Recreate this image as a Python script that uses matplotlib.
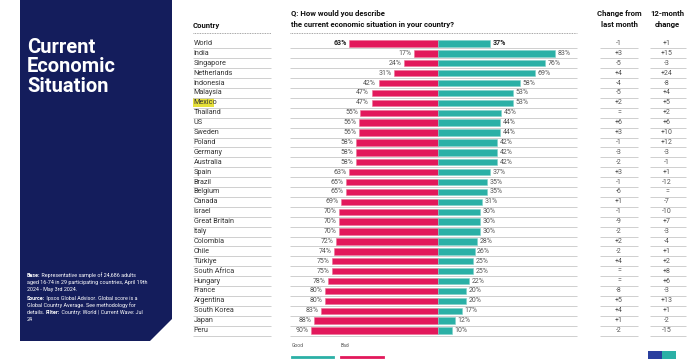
import numpy as np
import matplotlib.pyplot as plt
import matplotlib.transforms as mtransforms
from matplotlib.patches import Polygon, Rectangle

plt.rcParams['font.family'] = ['Roboto', 'DejaVu Sans']

countries = ["World", "India", "Singapore", "Netherlands", "Indonesia", "Malaysia",
             "Mexico", "Thailand", "US", "Sweden", "Poland", "Germany", "Australia",
             "Spain", "Brazil", "Belgium", "Canada", "Israel", "Great Britain", "Italy",
             "Colombia", "Chile", "Türkiye", "South Africa", "Hungary", "France",
             "Argentina", "South Korea", "Japan", "Peru"]
bad = [63, 17, 24, 31, 42, 47, 47, 55, 56, 56, 58, 58, 58, 63, 65, 65, 69, 70, 70, 70,
       72, 74, 75, 75, 78, 80, 80, 83, 88, 90]
good = [37, 83, 76, 69, 58, 53, 53, 45, 44, 44, 42, 42, 42, 37, 35, 35, 31, 30, 30, 30,
        28, 26, 25, 25, 22, 20, 20, 17, 12, 10]
chg_month = ["-1", "+3", "-5", "+4", "-4", "-5", "+2", "=", "+6", "+3", "-1", "-3", "-2",
             "+3", "-1", "-6", "+1", "-1", "-9", "-2", "+2", "-2", "+4", "=", "=", "-8",
             "+5", "+4", "+1", "-2"]
chg_year = ["+1", "+15", "-3", "+24", "-8", "+4", "+5", "+2", "+6", "+10", "+12", "-3",
            "-1", "+1", "-12", "=", "-7", "-10", "+7", "-3", "-4", "+1", "+2", "+8", "+6",
            "-3", "+13", "+1", "-2", "-15"]
highlight = "Mexico"

navy = '#141d5c'
red = '#e2185b'
teal = '#2bb0a6'
grey = '#555555'
line_c = '#c8c8c8'

W, H = 700, 359
fig = plt.figure(figsize=(7, 3.59), dpi=100)
bg = fig.add_axes([0, 0, 1, 1])
bg.set_xlim(0, W)
bg.set_ylim(H, 0)
bg.axis('off')

# left navy panel
bg.add_patch(Polygon([(20, 0), (172, 0), (172, 319), (150, 341), (20, 341)],
                     closed=True, color=navy, lw=0))
bg.text(27, 38, "Current\nEconomic\nSituation", color='white', fontsize=14.5,
        fontweight='bold', va='top', ha='left', linespacing=1.02)

fs = 3.9
def line(y, parts):
    # parts: list of (text, bold) drawn one after the other
    prev = None
    for txt, b in parts:
        w = 'bold' if b else 'normal'
        if prev is None:
            prev = bg.text(27, y, txt, color='white', fontsize=fs, fontweight=w,
                           va='baseline')
        else:
            prev = bg.annotate(txt, xy=(1, 0), xycoords=prev, va='bottom', ha='left',
                               color='white', fontsize=fs, fontweight=w)

line(277, [("Base:", True), (" Representative sample of 24,686 adults", False)])
line(284, [("aged 16-74 in 29 participating countries, April 19th", False)])
line(291, [("2024 - May 3rd 2024.", False)])
line(300, [("Source:", True), (" Ipsos Global Advisor. Global score is a", False)])
line(307, [("Global Country Average. See methodology for", False)])
line(314, [("details. ", False), ("Filter:", True),
           (" Country: World | Current Wave: Jul", False)])
line(321, [("24", False)])

# headers
hdr = dict(fontsize=5.6, fontweight='bold', color='#111111', va='baseline')
bg.text(193, 28, "Country", **hdr)
bg.text(291, 16, "Q: How would you describe", **hdr)
bg.text(291, 27, "the current economic situation in your country?", **hdr)
bg.text(619, 16, "Change from", ha='center', **hdr)
bg.text(619, 27, "last month", ha='center', **hdr)
bg.text(667, 16, "12-month", ha='center', **hdr)
bg.text(667, 27, "change", ha='center', **hdr)
bg.plot([193, 271], [33, 33], color='#888888', lw=0.6, ls=(0, (1, 1)))
bg.plot([290, 577], [33, 33], color='#888888', lw=0.6, ls=(0, (1, 1)))

# bars
ax = fig.add_axes([297 / W, 1 - 335.5 / H, 282 / W, 297 / H])
ax.axis('off')
rows = np.arange(len(countries))
bad_a = np.array(bad)
good_a = np.array(good)
ax.barh(rows, -bad_a, height=0.64, color=red, edgecolor='#ee6f95', lw=0.4)
ax.barh(rows, good_a, height=0.64, color=teal, edgecolor='#7fd0c9', lw=0.4)

tr = mtransforms.blended_transform_factory(bg.transData, ax.transData)
ax.hlines(rows + 0.5, 193, 271, color=line_c, lw=0.6, transform=tr, clip_on=False)
ax.hlines(rows + 0.5, 290, 577, color=line_c, lw=0.6, transform=tr, clip_on=False)
ax.hlines(rows + 0.5, 600, 638, color=line_c, lw=0.6, transform=tr, clip_on=False)
ax.hlines(rows + 0.5, 650, 686, color=line_c, lw=0.6, transform=tr, clip_on=False)

for i, c in enumerate(countries):
    if c == highlight:
        ax.add_patch(Rectangle((192.5, i - 0.45), 21, 0.9, color='#e6e03a',
                               transform=tr, clip_on=False, lw=0))
    ax.text(193.5, i, c, transform=tr, fontsize=5.2, color='#333333', va='center')
    w = 'bold' if i == 0 else 'normal'
    col = '#222222' if i == 0 else grey
    ax.text(-bad[i] - 1.8, i, f"{bad[i]}%", ha='right', va='center', fontsize=5,
            color=col, fontweight=w)
    ax.text(good[i] + 1.8, i, f"{good[i]}%", ha='left', va='center', fontsize=5,
            color=col, fontweight=w)
    ax.text(619, i, chg_month[i], transform=tr, ha='center', va='center',
            fontsize=5, color=grey)
    ax.text(667, i, chg_year[i], transform=tr, ha='center', va='center',
            fontsize=5, color=grey)

ax.set_xlim(-100, 100)
ax.set_ylim(len(countries) - 0.5, -0.5)

# legend
bg.text(292, 347, "Good", fontsize=3.6, color=grey, va='baseline')
bg.plot([292, 333], [357, 357], color=teal, lw=2)
bg.text(341, 347, "Bad", fontsize=3.6, color=grey, va='baseline')
bg.plot([341, 383], [357, 357], color=red, lw=2)

# logo
bg.add_patch(Rectangle((648, 351), 14, 8, color='#2a3f9e', lw=0))
bg.add_patch(Rectangle((662, 351), 14, 8, color='#2bb0a6', lw=0))

fig.savefig('out.png', dpi=100)
